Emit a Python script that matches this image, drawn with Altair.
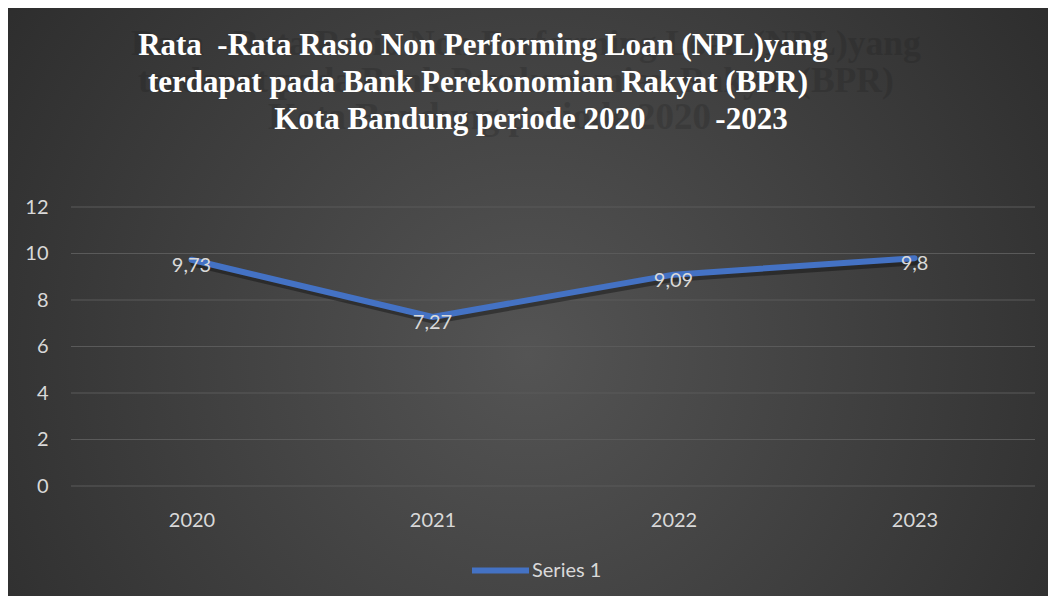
import altair as alt
import pandas as pd

years = ["2020", "2021", "2022", "2023"]
npl = [9.73, 7.27, 9.09, 9.8]
series = ["Series 1"] * 4
y_ticks = [0, 2, 4, 6, 8, 10, 12]
NB = "\u00a0"
title_lines = [
    "Rata" + NB + NB + "-Rata Rasio Non Performing Loan (NPL)yang",
    "terdapat pada Bank Perekonomian Rakyat (BPR)",
    "Kota Bandung periode 2020" + NB * 9 + "-2023",
]
ghost_lines = [
    "Rata" + NB + NB + "-Rata Rasio Non Performing Loan (NPL)yang",
    "terdapat pada Bank Perekonomian Rakyat (BPR)",
    "Kota Bandung periode 2020",
]

df = pd.DataFrame({
    "year": years,
    "npl": npl,
    "series": series,
    "label": [str(v).replace(".", ",") for v in npl],
})
grid_df = pd.DataFrame({"npl": y_ticks})

W, H = 964, 279
PL, PT, PR, PB = 63, 199, 13, 110
LFONT = "Lato"
LSIZE = 20
LCOL = "#d9d9d9"

bg = alt.Chart(pd.DataFrame({"a": [0]})).mark_rect(
    fill={
        "gradient": "radial",
        "stops": [
            {"offset": 0, "color": "#545454"},
            {"offset": 1, "color": "#262626"},
        ],
        "x1": 0.5, "y1": 0.55, "r1": 0,
        "x2": 0.5, "y2": 0.55, "r2": 0.72,
    }
).encode(
    x=alt.value(-PL), x2=alt.value(W + PR),
    y=alt.value(-PT), y2=alt.value(H + PB),
)

yscale = alt.Scale(domain=[0, 12])

xenc = alt.X("year:O", sort=years, scale=alt.Scale(padding=0.5),
             axis=alt.Axis(title=None, labelAngle=0, domain=False, ticks=False,
                           grid=False, labelColor=LCOL, labelFontSize=LSIZE,
                           labelFont=LFONT, labelPadding=24, zindex=1))
yenc = alt.Y("npl:Q", scale=yscale,
             axis=alt.Axis(title=None, values=y_ticks, domain=False, ticks=False,
                           grid=False, labelColor=LCOL, labelFontSize=LSIZE,
                           labelFont=LFONT, labelPadding=23, zindex=1))

grid = alt.Chart(grid_df).mark_rule(color="#5a5a5a", strokeWidth=1).encode(y=yenc)

base = alt.Chart(df)

shadow = base.mark_line(color="black", opacity=0.35, strokeWidth=6,
                        strokeCap="round", xOffset=2, yOffset=4).encode(
    x=xenc, y=yenc)

line = base.mark_line(strokeWidth=6, strokeCap="round", strokeJoin="round").encode(
    x=xenc, y=yenc,
    color=alt.Color("series:N", scale=alt.Scale(range=["#4472C4"]),
                    legend=alt.Legend(title=None, orient="none", legendX=398,
                                      legendY=332, symbolType="stroke",
                                      symbolSize=3249, symbolStrokeWidth=6,
                                      labelColor=LCOL, labelFontSize=LSIZE,
                                      labelFont=LFONT, labelOffset=0)),
)

labels = base.mark_text(color=LCOL, fontSize=LSIZE, font=LFONT, dy=6).encode(
    x=xenc, y=yenc, text="label:N")

one = alt.Chart(pd.DataFrame({"a": [0]}))
TFONT = "Liberation Serif"
TSIZE = 31
ghost_pos = [(60, -152, 35.5), (67, -115, 35.5), (197, -78, 37)]
ghosts = [
    one.mark_text(text=t, font=TFONT, fontWeight="bold", fontSize=gs,
                  color="#1c1c1c", opacity=0.22, align="left",
                  baseline="alphabetic").encode(x=alt.value(gx), y=alt.value(gy))
    for t, (gx, gy, gs) in zip(ghost_lines, ghost_pos)
]
title_pos = [(412, -152), (407, -115), (460, -78)]
titles = [
    one.mark_text(text=t, font=TFONT, fontWeight="bold", fontSize=TSIZE,
                  color="white", align="center",
                  baseline="alphabetic").encode(x=alt.value(tx), y=alt.value(ty))
    for t, (tx, ty) in zip(title_lines, title_pos)
]

chart = alt.layer(bg, *ghosts, *titles, grid, shadow, line, labels).properties(
    width=W, height=H,
    padding={"left": PL, "top": PT, "right": PR, "bottom": PB},
    autosize=alt.AutoSizeParams(type="none"),
).configure_view(stroke=None).configure(background="#2b2b2b")

chart.save("out.html", embed_options={"renderer": "svg", "actions": False})
